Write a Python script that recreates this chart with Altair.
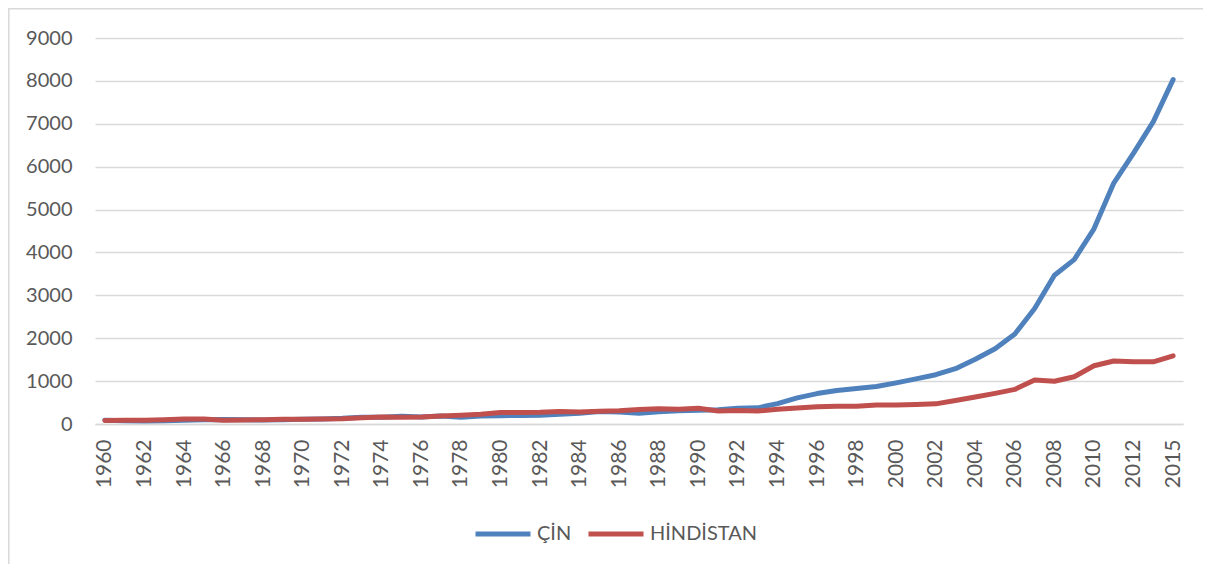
import altair as alt
import pandas as pd

years = ["1960", "1961", "1962", "1963", "1964", "1965", "1966", "1967", "1968", "1969",
         "1970", "1971", "1972", "1973", "1974", "1975", "1976", "1977", "1978", "1979",
         "1980", "1981", "1982", "1983", "1984", "1985", "1986", "1987", "1988", "1989",
         "1990", "1991", "1992", "1993", "1994", "1995", "1996", "1997", "1998", "1999",
         "2000", "2001", "2002", "2003", "2004", "2005", "2006", "2007", "2008", "2009",
         "2010", "2011", "2012", "2013", "2015"]

china = [89, 76, 71, 74, 85, 98, 104, 97, 92, 100,
         113, 119, 132, 157, 160, 178, 165, 185, 156, 184,
         195, 197, 203, 225, 251, 294, 282, 252, 284, 311,
         318, 333, 367, 377, 474, 610, 709, 782, 829, 873,
         959, 1053, 1149, 1289, 1509, 1753, 2099, 2694, 3468, 3832,
         4550, 5618, 6317, 7051, 8030]

india = [82, 85, 90, 101, 116, 119, 90, 96, 99, 108,
         112, 119, 123, 144, 163, 158, 161, 186, 206, 225,
         267, 271, 274, 291, 277, 296, 311, 340, 354, 346,
         368, 303, 317, 301, 346, 374, 400, 416, 413, 441,
         443, 452, 470, 547, 628, 715, 807, 1028, 998, 1102,
         1358, 1470, 1450, 1450, 1590]

series = ["ÇİN", "HİNDİSTAN"]
colors = ["#4F81BD", "#C0504D"]

x_labels = ["1960", "1962", "1964", "1966", "1968", "1970", "1972", "1974", "1976", "1978",
            "1980", "1982", "1984", "1986", "1988", "1990", "1992", "1994", "1996", "1998",
            "2000", "2002", "2004", "2006", "2008", "2010", "2012", "2015"]
y_ticks = [0, 1000, 2000, 3000, 4000, 5000, 6000, 7000, 8000, 9000]

df = pd.DataFrame({
    "Yıl": years * 2,
    "Değer": china + india,
    "Ülke": [series[0]] * len(years) + [series[1]] * len(years),
})

FONT = "Lato"
TXT = "#595959"

x_enc = alt.X("Yıl:O", sort=years,
              scale=alt.Scale(type="point", padding=0.5),
              axis=alt.Axis(values=x_labels, labelAngle=270, labelPadding=15,
                            ticks=False, tickSize=0, grid=False,
                            domainColor="#D9D9D9", domainWidth=1.5,
                            labelFont=FONT, labelFontSize=21, labelColor=TXT,
                            title=None))
y_enc = alt.Y("Değer:Q", scale=alt.Scale(domain=[0, 9000]),
              axis=alt.Axis(values=y_ticks, format="d", domain=False, ticks=False,
                            tickSize=0, labelPadding=23, gridColor="#D9D9D9",
                            gridWidth=1.5, labelFont=FONT, labelFontSize=20,
                            labelColor=TXT, title=None))
legend = alt.Legend(title=None, orient="none", legendX=378, legendY=466,
                    direction="horizontal", symbolType="stroke", symbolSize=3025,
                    symbolStrokeWidth=5, labelFont=FONT, labelFontSize=20,
                    labelColor=TXT, labelOffset=4, columnPadding=6)
c_enc = alt.Color("Ülke:N", scale=alt.Scale(domain=series, range=colors), legend=legend)

base = alt.Chart(df)
line_cn = base.transform_filter(alt.datum["Ülke"] == series[0]).mark_line(
    strokeWidth=5, strokeCap="round", strokeJoin="round").encode(x=x_enc, y=y_enc, color=c_enc)
line_in = base.transform_filter(alt.datum["Ülke"] == series[1]).mark_line(
    strokeWidth=5, strokeCap="round", strokeJoin="round").encode(x=x_enc, y=y_enc, color=c_enc)

frame_df = pd.DataFrame({"k": [0]})
left_border = alt.Chart(frame_df).mark_rule(color="#D9D9D9", strokeWidth=1.5, clip=False).encode(
    x=alt.value(-86.2), y=alt.value(-30), y2=alt.value(600))
top_border = alt.Chart(frame_df).mark_rule(color="#D9D9D9", strokeWidth=1.5, clip=False).encode(
    x=alt.value(-87), x2=alt.value(1200), y=alt.value(-29.2))

chart = alt.layer(left_border, top_border, line_cn, line_in).properties(
    width=1088, height=386,
    autosize=alt.AutoSizeParams(type="none"),
    padding={"left": 87, "top": 30, "right": 20, "bottom": 140},
    background="white",
).configure_view(stroke=None)

chart.save("out.html", embed_options={"renderer": "svg", "actions": False})
